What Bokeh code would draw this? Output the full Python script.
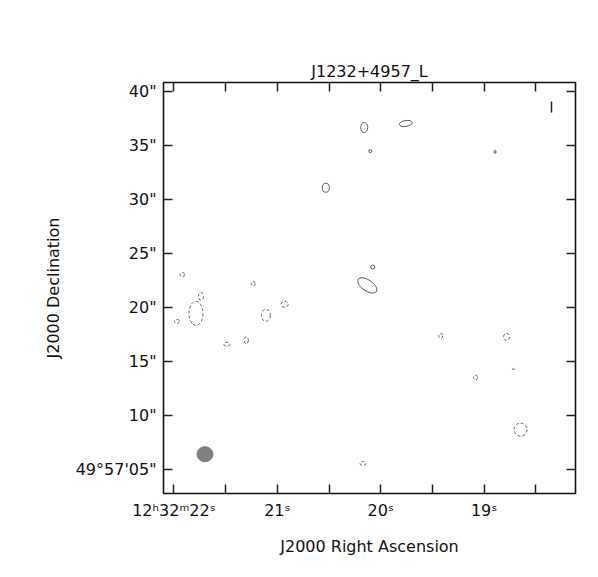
from bokeh.plotting import figure
from bokeh.models import Range1d, LinearAxis, FixedTicker, ColumnDataSource, Title
from bokeh.embed import file_html
from bokeh.resources import INLINE

# ---- data ----
title_text = "J1232+4957_L"
x_label = "J2000 Right Ascension"
y_label = "J2000 Declination"

ra_ticks = [22.0, 21.5, 21.0, 20.5, 20.0, 19.5, 19.0, 18.5]          # RA seconds (12h32m..)
ra_labels = ["12\u02b032\u1d5022\u02e2", "", "21\u02e2", "", "20\u02e2", "", "19\u02e2", ""]
dec_ticks = [5.0, 10.0, 15.0, 20.0, 25.0, 30.0, 35.0, 40.0]           # arcsec past 49d57'
dec_labels = ["49\u00b057'05\"", "10\"", "15\"", "20\"", "25\"", "30\"", "35\"", "40\""]

ra_range = [22.101, 18.116]
dec_range = [2.78, 40.86]

# positive (solid) contours
pos_ra = [20.159, 19.758, 20.101, 18.894, 20.531, 20.077, 20.130]
pos_dec = [36.69, 37.06, 34.50, 34.43, 31.11, 23.76, 22.06]
pos_w = [7, 13, 3, 2, 7, 4, 22]
pos_h = [10, 6, 3, 3, 9, 4, 11]
pos_angle = [0.0, 0.15, 0.0, 0.0, 0.0, 0.0, -0.6]

# negative (dashed) contours
neg_ra = [21.918, 21.234, 21.739, 21.787, 21.971, 21.488, 21.300, 21.111,
          20.928, 19.420, 18.783, 18.718, 19.082, 18.647, 20.171]
neg_dec = [23.06, 22.22, 21.05, 19.47, 18.73, 16.60, 16.97, 19.29,
           20.31, 17.39, 17.30, 14.35, 13.52, 8.70, 5.56]
neg_w = [5, 4, 5, 14, 5, 6, 4, 9, 7, 4, 6, 2, 4, 13, 6]
neg_h = [4, 5, 8, 24, 4, 4, 7, 12, 6, 5, 7, 2, 5, 13, 4]

# vertical bar, top right
bar_ra = [18.348]
bar_dec0 = [38.08]
bar_dec1 = [39.10]

# restoring beam
beam_ra = [21.700]
beam_dec = [6.42]

FONT = "DejaVu Sans"

p = figure(width=590, height=569, output_backend="svg", toolbar_location=None,
           x_range=Range1d(*ra_range), y_range=Range1d(*dec_range),
           min_border_left=163, min_border_right=15, min_border_top=82,
           min_border_bottom=76, x_axis_location=None, y_axis_location=None)
p.grid.visible = False
p.outline_line_color = "#111111"
p.outline_line_width = 1.6
p.background_fill_color = "white"
p.border_fill_color = "white"


def style_axis(ax, labels_on):
    ax.axis_line_color = None
    ax.major_tick_in = 9
    ax.major_tick_out = 0
    ax.minor_tick_line_color = None
    ax.major_tick_line_color = "#222222"
    ax.major_tick_line_width = 1.5
    ax.major_label_text_font = FONT
    ax.major_label_text_color = "#111111"
    if labels_on:
        ax.major_label_text_font_size = "16px"
    else:
        ax.major_label_text_font_size = "0px"
        ax.major_label_standoff = 0


xb = LinearAxis(ticker=FixedTicker(ticks=ra_ticks),
                major_label_overrides={t: l for t, l in zip(ra_ticks, ra_labels)})
style_axis(xb, True)
xb.major_label_standoff = 7
xb.axis_label = x_label
xb.axis_label_text_font = FONT
xb.axis_label_text_font_style = "normal"
xb.axis_label_text_font_size = "16px"
xb.axis_label_text_color = "#111111"
xb.axis_label_standoff = 14
p.add_layout(xb, "below")

xt = LinearAxis(ticker=FixedTicker(ticks=ra_ticks),
                major_label_overrides={t: "" for t in ra_ticks})
style_axis(xt, False)
p.add_layout(xt, "above")

yl = LinearAxis(ticker=FixedTicker(ticks=dec_ticks),
                major_label_overrides={t: l for t, l in zip(dec_ticks, dec_labels)})
style_axis(yl, True)
yl.major_label_standoff = 7
yl.axis_label = y_label
yl.axis_label_text_font = FONT
yl.axis_label_text_font_style = "normal"
yl.axis_label_text_font_size = "16px"
yl.axis_label_text_color = "#111111"
yl.axis_label_standoff = 10
p.add_layout(yl, "left")

yr = LinearAxis(ticker=FixedTicker(ticks=dec_ticks),
                major_label_overrides={t: "" for t in dec_ticks})
style_axis(yr, False)
p.add_layout(yr, "right")

t = Title(text=title_text, text_font=FONT, text_font_size="16px",
          text_font_style="normal", align="center", text_color="#111111",
          standoff=4)
p.add_layout(t, "above")

pos_src = ColumnDataSource(dict(x=pos_ra, y=pos_dec, w=pos_w, h=pos_h, a=pos_angle))
neg_src = ColumnDataSource(dict(x=neg_ra, y=neg_dec, w=neg_w, h=neg_h))

p.ellipse(x="x", y="y", width="w", height="h", angle="a", source=pos_src,
          width_units="screen", height_units="screen",
          fill_color=None, line_color="#5a5a5a", line_width=1)
p.ellipse(x="x", y="y", width="w", height="h", source=neg_src,
          width_units="screen", height_units="screen",
          fill_color=None, line_color="#6a6a6a", line_width=1, line_dash="3 2")

p.segment(x0=bar_ra, y0=bar_dec0, x1=bar_ra, y1=bar_dec1,
          line_color="#222222", line_width=1.5)

p.ellipse(x=beam_ra, y=beam_dec, width=16, height=15,
          width_units="screen", height_units="screen",
          fill_color="#7f7f7f", line_color="#7f7f7f", line_width=1)

open("out.html", "w").write(file_html(p, INLINE))
